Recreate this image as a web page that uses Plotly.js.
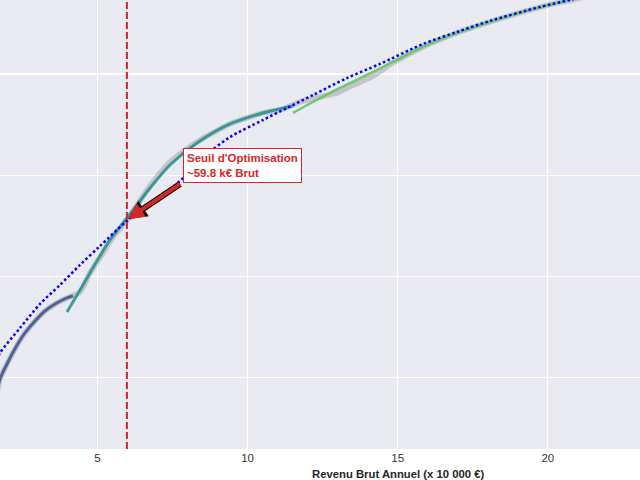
<!DOCTYPE html>
<html>
<head>
<meta charset="utf-8">
<script src="https://cdn.plot.ly/plotly-3.0.1.min.js"></script>
<style>html,body{margin:0;padding:0;background:#fff}#chart{width:640px;height:480px}</style>
</head>
<body>
<div id="chart"></div>
<script>
// Observed data (gray band)
const obsX = [1.65, 1.753, 2.019, 2.286, 2.585, 2.918, 3.252, 3.585, 3.984, 4.417, 4.750, 5.183, 5.516, 5.982, 6.748, 7.414, 8.313, 9.412, 10.511, 11.077, 11.743, 12.409, 12.975, 13.308, 14.174, 14.840, 15.839, 16.971, 18.070, 19.169, 20.301, 20.834, 21.733];
const obsY = [0.85, 0.986, 1.154, 1.302, 1.441, 1.559, 1.658, 1.727, 1.787, 1.846, 2.034, 2.231, 2.389, 2.557, 2.893, 3.130, 3.328, 3.506, 3.615, 3.644, 3.723, 3.773, 3.812, 3.862, 3.980, 4.109, 4.267, 4.405, 4.514, 4.613, 4.702, 4.731, 4.810];

// Segment 1 (low incomes)
const seg1X = [1.65, 1.753, 2.019, 2.286, 2.585, 2.918, 3.252, 3.585, 3.984, 4.184];
const seg1Y = [0.85, 0.986, 1.154, 1.302, 1.441, 1.559, 1.658, 1.727, 1.787, 1.806];

// Segment 2 (middle incomes)
const seg2X = [3.984, 4.517, 4.983, 5.416, 5.982, 6.415, 6.748, 7.414, 8.313, 9.412, 10.511, 11.510];
const seg2Y = [1.648, 1.915, 2.152, 2.360, 2.577, 2.745, 2.873, 3.101, 3.318, 3.506, 3.615, 3.684];

// Segment 3 (high incomes)
const seg3X = [11.510, 12.176, 13.075, 13.974, 14.840, 15.839, 16.971, 18.070, 19.169, 20.301, 21.733];
const seg3Y = [3.615, 3.723, 3.862, 3.990, 4.119, 4.267, 4.405, 4.514, 4.613, 4.702, 4.810];

// Global fit (dotted)
const fitX = [1.65, 1.753, 2.419, 3.085, 3.751, 4.417, 5.083, 6.015, 7.081, 7.747, 8.746, 9.412, 10.511, 11.310, 12.176, 13.308, 14.407, 15.839, 16.971, 18.070, 19.735, 20.734, 21.733];
const fitY = [1.17, 1.243, 1.490, 1.727, 1.915, 2.113, 2.300, 2.557, 2.785, 2.943, 3.229, 3.377, 3.545, 3.664, 3.792, 3.960, 4.099, 4.296, 4.415, 4.524, 4.662, 4.731, 4.810];

const threshold = 5.98;
const xTicks = [5, 10, 15, 20];
const xTickText = ['5', '10', '15', '20'];
const labelText = "Seuil d'Optimisation<br>~59.8 k€ Brut";
const xTitle = 'Revenu Brut Annuel (x 10 000 €)';

const FONT = 'Liberation Sans, Arial, sans-serif';

const traces = [
  {x: obsX, y: obsY, mode: 'lines', line: {color: 'rgba(140,140,140,0.4)', width: 5.5, shape: 'spline', smoothing: 0.6}, hoverinfo: 'skip'},
  {x: seg1X, y: seg1Y, mode: 'lines', line: {color: '#3b528b', width: 3, shape: 'spline', smoothing: 1}, opacity: 0.85},
  {x: seg2X, y: seg2Y, mode: 'lines', line: {color: '#21918c', width: 3, shape: 'spline', smoothing: 0.8}, opacity: 0.85},
  {x: seg3X, y: seg3Y, mode: 'lines', line: {color: '#5ec962', width: 2.5, shape: 'spline', smoothing: 0.8}, opacity: 0.9},
  {x: fitX, y: fitY, mode: 'lines', line: {color: '#0000ff', width: 2.5, dash: '2.5px,2.5px', shape: 'spline', smoothing: 0.8}}
];

const layout = {
  width: 640, height: 480,
  margin: {l: 0, r: 0, t: 0, b: 31, pad: 0},
  paper_bgcolor: '#ffffff',
  plot_bgcolor: '#eaeaf2',
  showlegend: false,
  font: {family: FONT, color: '#262626', size: 12},
  xaxis: {
    range: [1.753, 23.07], tickvals: xTicks, ticktext: xTickText,
    showgrid: true, gridcolor: '#ffffff', gridwidth: 1.3, zeroline: false,
    showline: false, ticks: '', tickfont: {size: 11.5, color: '#333333'}, ticklabelstandoff: 0
  },
  yaxis: {
    range: [0.2945, 4.731], tick0: 0, dtick: 1,
    showgrid: true, gridcolor: '#ffffff', gridwidth: 1.3, zeroline: false,
    showline: false, ticks: '', showticklabels: false
  },
  shapes: [
    {type: 'line', xref: 'x', yref: 'paper', x0: threshold, x1: threshold, y0: 0, y1: 1,
     line: {color: '#d62728', width: 2, dash: '7px,3px'}}
  ],
  annotations: [
    {xref: 'x', yref: 'y', axref: 'x', ayref: 'y', x: 6.02, y: 2.567, ax: 7.8, ay: 2.923,
     text: '', showarrow: true, arrowhead: 2, arrowsize: 0.62, arrowwidth: 6, arrowcolor: '#000000'},
    {xref: 'x', yref: 'y', axref: 'x', ayref: 'y', x: 6.02, y: 2.567, ax: 7.8, ay: 2.923,
     text: '', showarrow: true, arrowhead: 2, arrowsize: 0.8, arrowwidth: 4, arrowcolor: '#d62728'},
    {xref: 'x', yref: 'y', x: 7.847, y: 3.269, xanchor: 'left', yanchor: 'top',
     text: '<b>' + labelText + '</b>', showarrow: false, align: 'left',
     font: {family: FONT, size: 11.5, color: '#d62728'},
     bgcolor: '#ffffff', bordercolor: '#d62728', borderwidth: 1, borderpad: 3},
    {xref: 'x', yref: 'paper', x: 15.02, y: 0, yanchor: 'top', xanchor: 'center', yshift: -17,
     text: '<b>' + xTitle + '</b>', showarrow: false,
     font: {family: FONT, size: 11.3, color: '#262626'}}
  ]
};

Plotly.newPlot('chart', traces, layout, {staticPlot: true, displayModeBar: false});
</script>
</body>
</html>
